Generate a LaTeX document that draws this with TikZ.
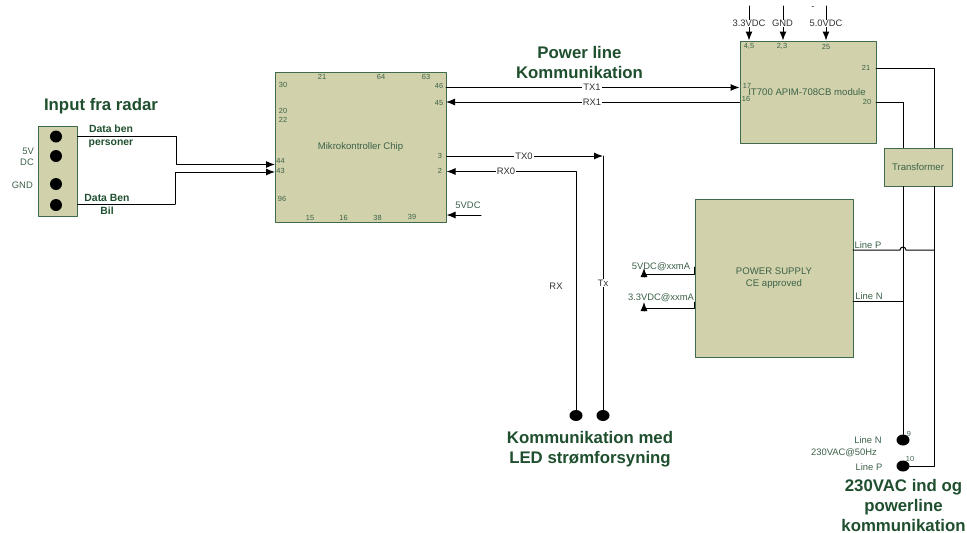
\documentclass[tikz,border=0pt]{standalone}
\usepackage{fontspec}
\setmainfont{Liberation Sans}
\usetikzlibrary{arrows.meta,calc,positioning,shapes.geometric}
\definecolor{BlockFill}{HTML}{D1D2AB}
\definecolor{BlockEdge}{HTML}{3F6B4C}
\definecolor{LabelGreen}{HTML}{3C6148}
\definecolor{HeadGreen}{HTML}{1F4F2E}
\definecolor{WireText}{HTML}{333333}
\tikzset{
  blk/.style={draw=BlockEdge,fill=BlockFill,line width=1pt,inner sep=0pt,text=LabelGreen,align=center,font=\fontsize{9.6}{12.5}\selectfont},
  wire/.style={line width=1pt},
  tip/.style={wire,-{Latex[length=9pt,width=7pt]}},
  pinlbl/.style={inner sep=0pt,text=LabelGreen,font=\fontsize{7.4}{8}\selectfont},
  lbl/.style={inner sep=0pt,text=LabelGreen,align=center,font=\fontsize{9.4}{10}\selectfont},
  wirelbl/.style={inner sep=1pt,fill=white,text=WireText,font=\fontsize{9.4}{10}\selectfont},
  datalbl/.style={inner sep=0pt,text=HeadGreen,align=center,font=\bfseries\fontsize{10.4}{13.5}\selectfont},
  head/.style={inner sep=0pt,text=HeadGreen,align=center,font=\bfseries\fontsize{16.8}{20}\selectfont},
  dot/.style={ellipse,fill=black,inner sep=0pt,minimum width=13pt,minimum height=11pt}
}
\begin{document}
\begin{tikzpicture}[x=1pt,y=-1pt,line cap=round,line join=round]
  \useasboundingbox (0,0) rectangle (967,533);
  % blocks
  \node[blk,minimum width=39pt,minimum height=90pt] (radar) at (57.5,171) {};
  \node[blk,minimum width=171pt,minimum height=150pt] (chip) at (360.5,147) {Mikrokontroller Chip};
  \node[blk,minimum width=136pt,minimum height=102pt] (module) at (808,92) {};
  \node[blk,minimum width=68pt,minimum height=38pt] (trans) at (918,167) {Transformer};
  \node[blk,minimum width=158pt,minimum height=158pt] (psu) at (774,278) {POWER SUPPLY\\CE approved};
  \node[lbl,font=\fontsize{9.6}{10}\selectfont] (modname) at (807,92) {IT700 APIM-708CB module};
  % terminals
  \foreach \y [count=\n] in {136.5,156,184,205}{\node[dot,minimum width=12pt,minimum height=12pt] (term\n) at (56,\y) {};}
  \node[dot] (rxdot) at (576,415.5) {};
  \node[dot] (txdot) at (603,415.5) {};
  \node[dot] (ndot) at (903,440) {};
  \node[dot] (pdot) at (903,466) {};
  % wire levels and tracks
  \coordinate (inA) at (275,164.5);\coordinate (inB) at (275,172);
  \coordinate (kneeA) at (176,136.5);\coordinate (kneeB) at (175,204);
  \coordinate (busone) at (446,87.5);\coordinate (bustwo) at (446,102);
  \coordinate (txzero) at (603,156);\coordinate (rxzero) at (576,171.5);
  \coordinate (vchip) at (481,215);
  \coordinate (lvA) at (876,68);\coordinate (lvB) at (876,102);
  \coordinate (trackA) at (903,0);\coordinate (trackB) at (934,0);
  \coordinate (lineP) at (853,250);\coordinate (lineN) at (853,301);
  \coordinate (outA) at (644,274);\coordinate (outB) at (644,308);
  \coordinate (topA) at (749,6);\coordinate (topB) at (783,6);\coordinate (topC) at (826,6);
  % radar to chip
  \draw[wire] (radar.east |- kneeA) -- (kneeA);
  \draw[tip] (kneeA) -- (kneeA |- inA) -- (inA);
  \draw[wire] (radar.east |- kneeB) -- (kneeB);
  \draw[tip] (kneeB) -- (kneeB |- inB) -- (inB);
  % chip to module
  \draw[tip] (busone) -- (module.west |- busone);
  \draw[tip] (module.west |- bustwo) -- (bustwo);
  % led lines
  \draw[tip] (chip.east |- txzero) -- (txzero);
  \draw[wire] (txzero) -- (txdot.north);
  \draw[tip] (rxzero) -- (chip.east |- rxzero);
  \draw[wire] (rxzero) -- (rxdot.north);
  \draw[tip] (vchip) -- (chip.east |- vchip);
  % module supplies
  \foreach \c in {topA,topB,topC}{\draw[tip] (\c) -- (module.north -| \c);}
  % module to mains
  \draw[wire] (lvA) -- (trackB |- lvA) -- (trans.north -| trackB);
  \draw[wire] (lvB) -- (trackA |- lvB) -- (trans.north -| trackA);
  \draw[wire] (trans.south -| trackA) -- (ndot.north);
  \draw[wire] (trans.south -| trackB) -- (trackB |- pdot) -- (pdot.east);
  \draw[wire] (lineP) -- ($(trackA |- lineP)+(-3,0)$) arc (180:0:3 and -3) -- (trackB |- lineP);
  \draw[wire] (lineN) -- (trackA |- lineN);
  % supply outputs
  \draw[wire] (psu.west |- 695,267) -- (psu.west |- outA) -- (outA);
  \draw[wire] (psu.west |- 695,302) -- (psu.west |- outB) -- (outB);
  \draw[tip] ($(outA)+(0,3)$) -- ($(outA)+(0,-6)$);
  \draw[tip] ($(outB)+(0,3)$) -- ($(outB)+(0,-6)$);
  % wire labels
  \node[wirelbl] (ltxone) at (592,87.5) {TX1};
  \node[wirelbl] (lrxone) at (592,102) {RX1};
  \node[wirelbl] (ltxzero) at (524,156) {TX0};
  \node[wirelbl] (lrxzero) at (506,171.5) {RX0};
  \node[wirelbl] (ltx) at (603,283) {Tx};
  \node[wirelbl,fill=none] (lrx) at (556,286) {RX};
  \node[wirelbl,inner sep=.5pt] (ltopA) at (749,23.5) {3.3VDC};
  \node[wirelbl,inner sep=.5pt] (ltopB) at (782.5,23.5) {GND};
  \node[wirelbl,inner sep=.5pt] (ltopC) at (826,23.5) {5.0VDC};
  \node[wirelbl,fill=none,inner sep=0pt] (ldash) at (813,8) {-};
  % pin numbers
  \foreach \x/\y/\t [count=\n] in {322/76.5/21,381/76.5/64,426/76.5/63,283/85/30,439/85.5/46,439/103/45,283/110.5/20,283/119.5/22,280.5/160.5/44,280.5/170.5/43,282/199/96,440/155.5/3,440/171/2,310/217.5/15,343.5/217.5/16,377.5/217.5/38,412/216.5/39}{
    \node[pinlbl] (cpin\n) at (\x,\y) {\t};}
  \foreach \x/\y/\t [count=\n] in {749/46.5/{4,5},782/46.5/{2,3},826/47/25,866/68/21,867/102/20,747/85.5/17,746/99/16}{
    \node[pinlbl] (mpin\n) at (\x,\y) {\t};}
  \node[pinlbl] (npin) at (909,434) {9};
  \node[pinlbl] (ppin) at (910,459) {10};
  % texts
  \node[lbl,align=right,anchor=east,font=\fontsize{9.4}{10.5}\selectfont] (lvdc) at (34,157) {5V\\DC};
  \node[lbl,anchor=east] (lgnd) at (33,185) {GND};
  \node[datalbl] (ldataA) at (111,136.5) {Data ben\\personer};
  \node[datalbl] (ldataB) at (107,204.5) {Data Ben\\Bil};
  \node[lbl] (lfive) at (468,205) {5VDC};
  \node[lbl] (loutA) at (661,267) {5VDC@xxmA};
  \node[lbl] (loutB) at (661,298) {3.3VDC@xxmA};
  \node[lbl] (lpP) at (868,245) {Line P};
  \node[lbl] (lpN) at (869,296) {Line N};
  \node[lbl] (lN) at (868,440) {Line N};
  \node[lbl] (lac) at (844,453) {230VAC@50Hz};
  \node[lbl] (lP) at (869,467) {Line P};
  % headings
  \node[head] (hradar) at (101,106.5) {Input fra radar};
  \node[head] (hpower) at (579.5,62) {Power line\\Kommunikation};
  \node[head] (hled) at (590,449) {Kommunikation med\\LED strømforsyning};
  \node[head] (hmains) at (903.5,505) {230VAC ind og\\powerline\\kommunikation};
\end{tikzpicture}
\end{document}
